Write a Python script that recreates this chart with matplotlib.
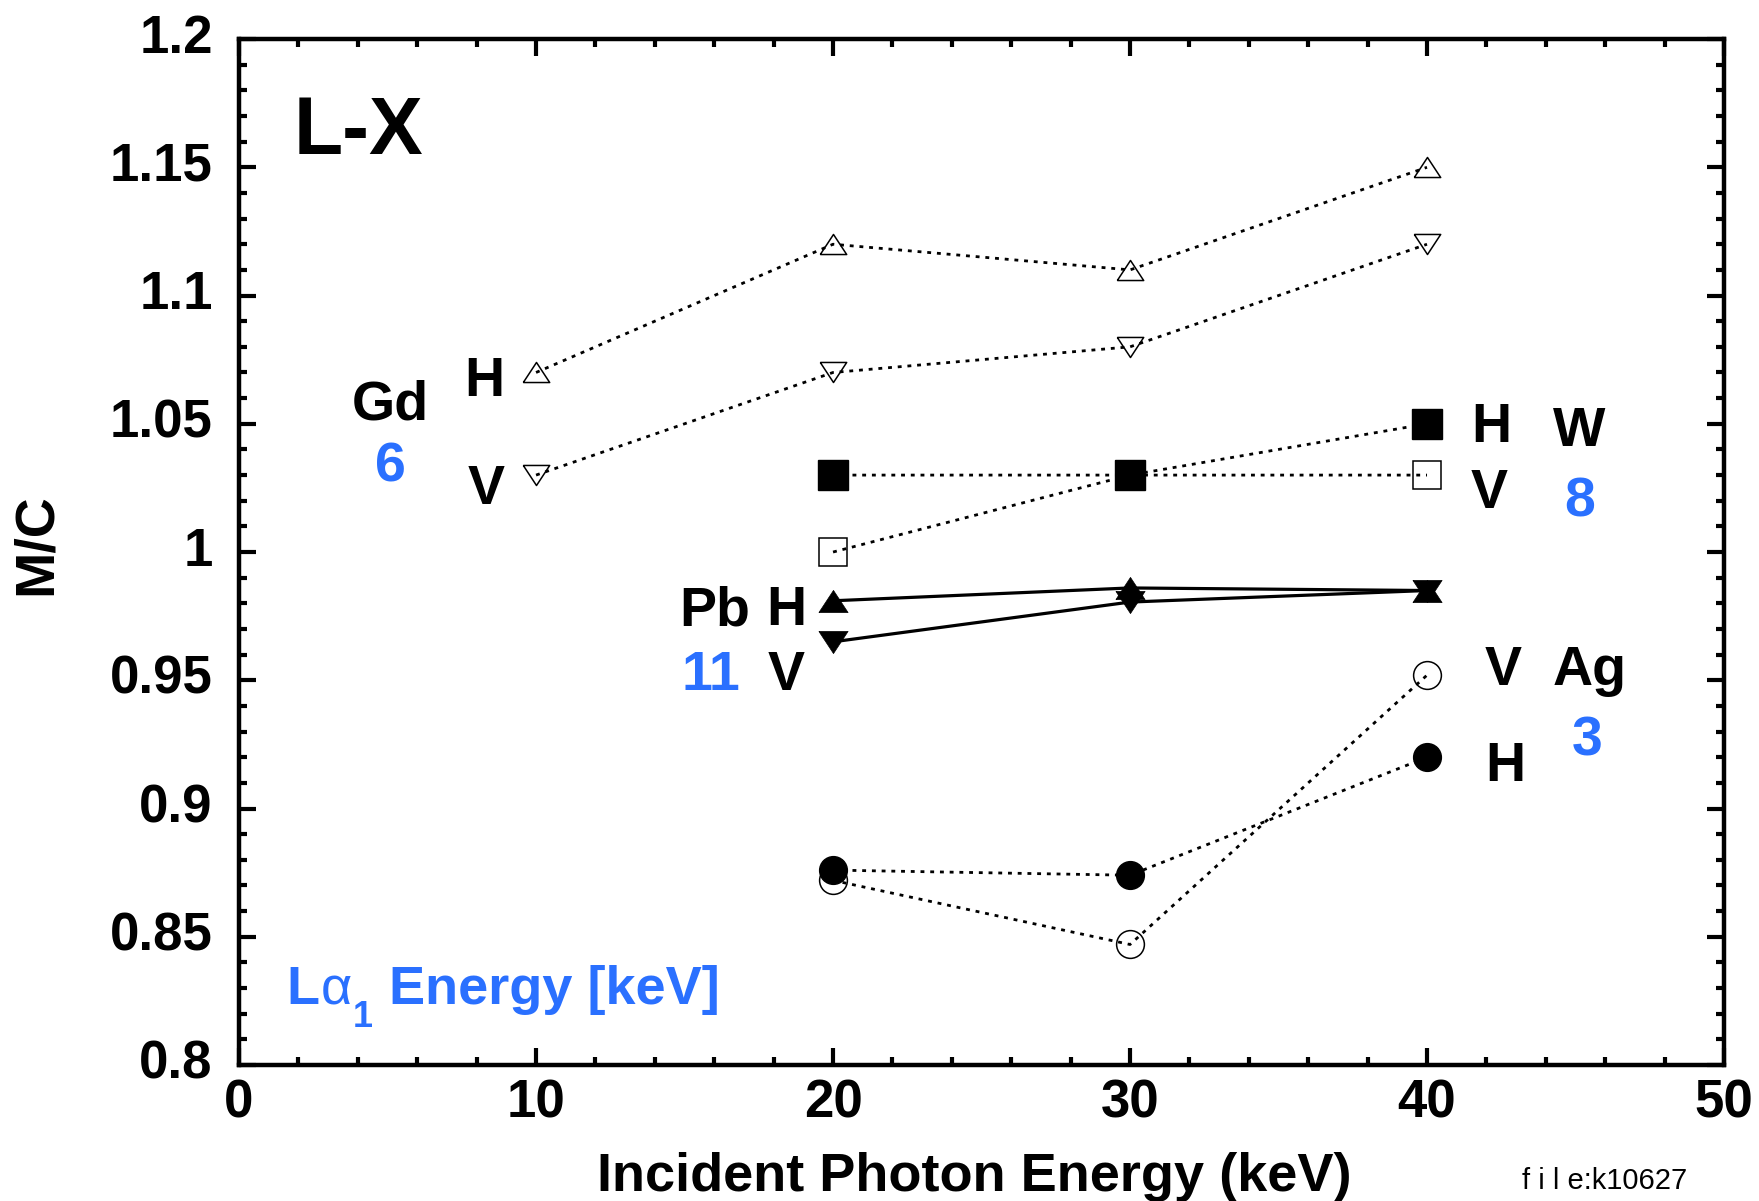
import matplotlib
matplotlib.use("Agg")
import matplotlib.pyplot as plt
from matplotlib.ticker import MultipleLocator
from matplotlib.transforms import ScaledTranslation

plt.rcParams['font.family'] = ['Liberation Sans', 'DejaVu Sans']
plt.rcParams['font.weight'] = 'bold'

BLUE = '#2a70ff'

# M/C ratios vs incident photon energy
energy_gd = [10, 20, 30, 40]
gd_h = [1.07, 1.12, 1.11, 1.15]
gd_v = [1.03, 1.07, 1.08, 1.12]

energy = [20, 30, 40]
w_h = [1.03, 1.03, 1.05]
w_v = [1.00, 1.03, 1.03]
pb_h = [0.981, 0.986, 0.985]
pb_v = [0.965, 0.9805, 0.985]
ag_h = [0.876, 0.874, 0.92]
ag_v = [0.872, 0.847, 0.952]

# flattened triangles (wider than tall)
tri_up = [(-1, -0.76), (1, -0.76), (0, 0.76), (-1, -0.76)]
tri_dn = [(-1, 0.76), (1, 0.76), (0, -0.76), (-1, 0.76)]

dot = (0, (1.4, 2.1))

fig = plt.figure(figsize=(17.59, 12.01), dpi=100)
ax = fig.add_axes([0.1359, 0.1132, 0.8442, 0.8543])

# Gd
ax.plot(energy_gd, gd_h, color='k', lw=2, ls=dot, marker=tri_up, ms=19,
        mfc='none', mec='k', mew=1.1)
ax.plot(energy_gd, gd_v, color='k', lw=2, ls=dot, marker=tri_dn, ms=19,
        mfc='none', mec='k', mew=1.1)
# W
ax.plot(energy, w_v, color='k', lw=2, ls=dot, marker='s', ms=20,
        mfc='none', mec='k', mew=1.1)
ax.plot(energy, w_h, color='k', lw=2, ls=dot, marker='s', ms=21,
        mfc='k', mec='k')
# Pb
ax.plot(energy, pb_h, color='k', lw=2.3, ls='-', marker=tri_up, ms=21,
        mfc='k', mec='k', mew=0.5)
ax.plot(energy, pb_v, color='k', lw=2.3, ls='-', marker=tri_dn, ms=21,
        mfc='k', mec='k', mew=0.5)
# Ag
ax.plot(energy, ag_v, color='k', lw=2, ls=dot, marker='o', ms=20,
        mfc='none', mec='k', mew=1.1)
ax.plot(energy, ag_h, color='k', lw=2, ls=dot, marker='o', ms=20,
        mfc='k', mec='k')

ax.set_xlim(0, 50)
ax.set_ylim(0.8, 1.2)
ax.xaxis.set_major_locator(MultipleLocator(10))
ax.xaxis.set_minor_locator(MultipleLocator(2))
ax.yaxis.set_major_locator(MultipleLocator(0.05))
ax.yaxis.set_minor_locator(MultipleLocator(0.01))
ax.set_yticks([0.8, 0.85, 0.9, 0.95, 1.0, 1.05, 1.1, 1.15, 1.2])
ax.set_yticklabels(['0.8', '0.85', '0.9', '0.95', '1', '1.05', '1.1', '1.15', '1.2'])

for s in ax.spines.values():
    s.set_linewidth(3.2)
ax.tick_params(which='both', direction='in', top=True, right=True, width=3)
ax.tick_params(which='major', length=12, labelsize=38)
ax.tick_params(which='minor', length=6)
ax.tick_params(axis='y', which='major', pad=19)
ax.tick_params(axis='x', which='major', pad=10)

# y labels sit a little above their ticks
up = ScaledTranslation(0, 0.06, fig.dpi_scale_trans)
for lab in ax.get_yticklabels():
    lab.set_transform(lab.get_transform() + up)

fig.text(0.021, 0.547, 'M/C', rotation=90, fontsize=40, ha='center', va='center')
fig.text(0.554, 0.020, 'Incident Photon Energy (keV)', fontsize=39,
         ha='center', va='center')
fig.text(0.912, 0.017, 'f i l e:k10627', fontsize=21, fontweight='normal',
         ha='center', va='center')

kw = dict(fontsize=40, ha='center', va='center')
ax.text(1.85, 1.1635, 'L-X', fontsize=58, ha='left', va='center')

ax.text(5.1, 1.0572, 'Gd', **kw)
ax.text(5.1, 1.0328, '6', color=BLUE, **kw)
ax.text(8.27, 1.0662, 'H', **kw)
ax.text(8.31, 1.0242, 'V', **kw)

ax.text(42.18, 1.0482, 'H', **kw)
ax.text(42.1, 1.0227, 'V', **kw)
ax.text(45.13, 1.0468, 'W', **kw)
ax.text(45.13, 1.0192, '8', color=BLUE, **kw)

ax.text(16.0, 0.9768, 'Pb', **kw)
ax.text(18.43, 0.9772, 'H', **kw)
ax.text(15.9, 0.9518, '11', color=BLUE, **kw)
ax.text(18.43, 0.9518, 'V', **kw)

ax.text(42.56, 0.9536, 'V', **kw)
ax.text(45.47, 0.9536, 'Ag', **kw)
ax.text(45.39, 0.9262, '3', color=BLUE, **kw)
ax.text(42.64, 0.9162, 'H', **kw)

# L alpha_1 caption, subscript set by hand so it drops below the baseline
ax.text(1.59, 0.8292, 'L', color=BLUE, fontsize=39, ha='left', va='center')
ax.text(2.75, 0.8292, 'α', color=BLUE, fontsize=39, fontweight='normal',
        ha='left', va='center')
ax.text(4.15, 0.8185, '1', color=BLUE, fontsize=26, ha='center', va='center')
ax.text(5.06, 0.8292, 'Energy [keV]', color=BLUE, fontsize=39,
        ha='left', va='center')

fig.savefig('out.png', dpi=100)
